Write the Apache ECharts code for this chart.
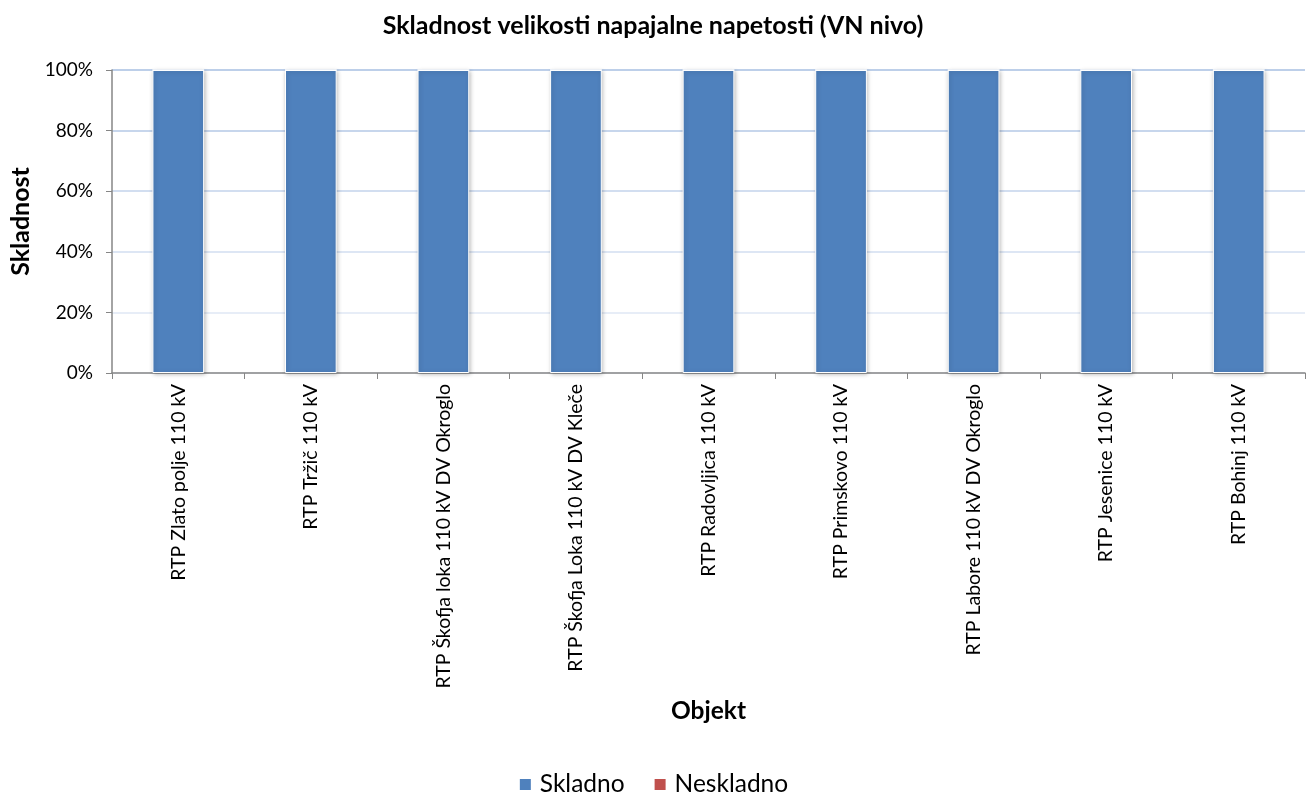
<!DOCTYPE html>
<html>
<head>
<meta charset="utf-8">
<script src="https://cdn.jsdelivr.net/npm/echarts@6/dist/echarts.min.js"></script>
<style>
  html, body { margin: 0; padding: 0; background: #fff; }
  #chart { width: 1306px; height: 794px; }
</style>
</head>
<body>
<div id="chart"></div>
<script>
// Substations (RTP) at the medium-voltage level
const categories = [
  'RTP Zlato polje 110 kV',
  'RTP Tržič 110 kV',
  'RTP Škofja loka 110 kV DV Okroglo',
  'RTP Škofja Loka 110 kV DV Kleče',
  'RTP Radovljica 110 kV',
  'RTP Primskovo 110 kV',
  'RTP Labore 110 kV DV Okroglo',
  'RTP Jesenice 110 kV',
  'RTP Bohinj 110 kV'
];
// Share of compliant / non-compliant measurements (fraction)
const skladno   = [1, 1, 1, 1, 1, 1, 1, 1, 1];
const neskladno = [0, 0, 0, 0, 0, 0, 0, 0, 0];
const yTicks = [0, 0.2, 0.4, 0.6, 0.8, 1];

const FONT = 'Lato, "Open Sans", sans-serif';

const chart = echarts.init(document.getElementById('chart'), null, { renderer: 'canvas' });

chart.setOption({
  animation: false,
  backgroundColor: '#ffffff',
  title: {
    text: 'Skladnost velikosti napajalne napetosti (VN nivo)',
    left: 'center',
    top: 8,
    textStyle: { fontFamily: FONT, fontSize: 25, fontWeight: 'bold', color: '#000' }
  },
  legend: {
    top: 767,
    left: 'center',
    itemWidth: 13,
    itemHeight: 13,
    itemGap: 28,
    icon: 'rect',
    textStyle: { fontFamily: FONT, fontSize: 24.5, color: '#000', padding: [0, 0, 0, 3] },
    data: ['Skladno', 'Neskladno']
  },
  grid: { left: 112, right: 1, top: 70, bottom: 421, containLabel: false },
  xAxis: {
    type: 'category',
    data: categories,
    name: 'Objekt',
    nameLocation: 'middle',
    nameGap: 326,
    nameTextStyle: { fontFamily: FONT, fontSize: 24.5, fontWeight: 'bold', color: '#000' },
    axisLine: { lineStyle: { color: '#868686', width: 1.5 } },
    axisTick: { show: true, alignWithLabel: false, length: 6, lineStyle: { color: '#868686' } },
    axisLabel: {
      rotate: 90,
      interval: 0,
      margin: 11,
      fontFamily: FONT,
      fontSize: 19.5,
      color: '#000'
    }
  },
  yAxis: {
    type: 'value',
    min: 0,
    max: 1,
    interval: 0.2,
    name: 'Skladnost',
    nameLocation: 'middle',
    nameGap: 77,
    nameTextStyle: { fontFamily: FONT, fontSize: 25, fontWeight: 'bold', color: '#000' },
    axisLine: { show: true, lineStyle: { color: '#868686', width: 1.5 } },
    axisTick: { show: true, length: 6, lineStyle: { color: '#868686' } },
    axisLabel: {
      margin: 19,
      fontFamily: FONT,
      fontSize: 19,
      color: '#000',
      formatter: v => {
        const t = yTicks.find(x => Math.abs(x - v) < 1e-9);
        return Math.round((t === undefined ? v : t) * 100) + '%';
      }
    },
    splitLine: {
      show: true,
      lineStyle: {
        width: 1.5,
        color: ['#e6edf7', '#dfe7f4', '#d2def0', '#c3d3eb', '#b5c9e6', '#a7bfe2']
      }
    }
  },
  series: [
    {
      name: 'Skladno',
      type: 'bar',
      stack: 'total',
      barWidth: '39%',
      data: skladno,
      itemStyle: {
        color: '#4f81bd',
        borderColor: '#ffffff',
        borderWidth: 1,
        shadowColor: 'rgba(0,0,0,0.25)',
        shadowBlur: 4,
        shadowOffsetX: 1,
        shadowOffsetY: 1
      }
    },
    {
      name: 'Neskladno',
      type: 'bar',
      stack: 'total',
      barWidth: '39%',
      data: neskladno,
      itemStyle: { color: '#c0504d', borderColor: '#ffffff', borderWidth: 1 }
    }
  ]
});
</script>
</body>
</html>
